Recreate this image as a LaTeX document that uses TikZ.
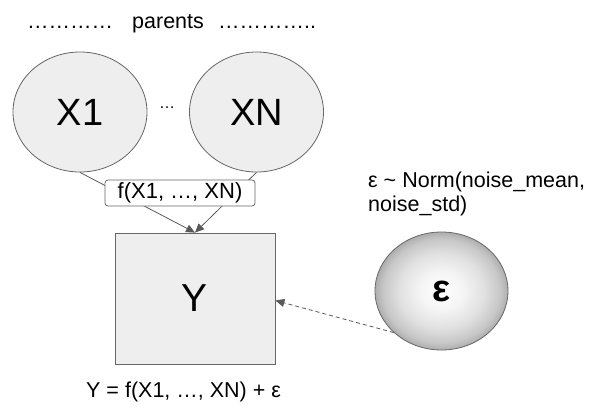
\documentclass[tikz,border=0pt]{standalone}
\usepackage{fontspec}
\setmainfont{Liberation Sans}
\usetikzlibrary{shapes.geometric,arrows.meta}
\definecolor{nodefill}{HTML}{EEEEEE}
\definecolor{edgegray}{HTML}{595959}
\definecolor{bordergray}{HTML}{666666}
\pgfdeclareradialshading{noiseshade}{\pgfpoint{0bp}{0bp}}{%
  color(0bp)=(white);
  color(8bp)=(white!96!black);
  color(16bp)=(white!88!black);
  color(22bp)=(white!78!black);
  color(25bp)=(white!68!black);
  color(50bp)=(white!68!black)}
\begin{document}
\begin{tikzpicture}[x=1pt,y=-1pt,
  parent/.style={ellipse, draw=bordergray, fill=nodefill, line width=0.8pt,
    minimum width=134pt, minimum height=120pt, inner sep=0pt,
    font=\fontsize{38}{40}\selectfont},
  ybox/.style={rectangle, draw=bordergray, fill=nodefill, line width=0.8pt,
    minimum width=160pt, minimum height=131pt, inner sep=0pt,
    font=\fontsize{39}{41}\selectfont},
  noise/.style={ellipse, draw=bordergray, line width=0.8pt, shading=noiseshade,
    minimum width=133pt, minimum height=118pt, inner sep=0pt,
    font=\fontsize{38}{40}\selectfont\bfseries},
  fbox/.style={rectangle, rounded corners=3pt, draw=bordergray, fill=white,
    line width=0.8pt, minimum width=150pt, minimum height=26pt, inner sep=0pt,
    font=\fontsize{22}{24}\selectfont},
  txt/.style={inner sep=0pt, font=\fontsize{21.5}{24}\selectfont},
  edge/.style={draw=edgegray, line width=0.8pt, -{Triangle[length=9pt,width=8pt]}},
  dasharrow/.style={draw=edgegray, line width=0.8pt, dash pattern=on 4pt off 3pt,
    -{Triangle[length=9pt,width=8pt]}}
]
\useasboundingbox (0,0) rectangle (595,413);

\node[txt, anchor=base west] (dl) at (27,28) {…………};
\node[txt, anchor=base west] (par) at (132,28) {parents};
\node[txt, anchor=base west] (dr) at (218,28) {…………..};

\node[parent] (X1) at (80,112) {X1};
\node[parent] (XN) at (256.5,112) {XN};
\node[inner sep=0pt, font=\fontsize{16}{18}\selectfont, anchor=base] (dots) at (167,108) {…};

\node[ybox] (Y) at (195,298.5) {Y};
\node[noise] (eps) at (441.5,291) {ε};

\draw[edge] (X1.south) -- (Y.north);
\draw[edge] (XN.south) -- (Y.north);
\node[fbox] (f) at (180,193) {f(X1, …, XN)};

\draw[dasharrow] (eps.221) -- ([yshift=-2pt]Y.east);

\node[txt, anchor=base west] (cap) at (86,397) {Y = f(X1, …, XN) + ε};
\node[txt, anchor=north west, align=left] (law) at (368,172)
  {ε \textasciitilde{} Norm(noise\_mean,\\noise\_std)};
\end{tikzpicture}
\end{document}
